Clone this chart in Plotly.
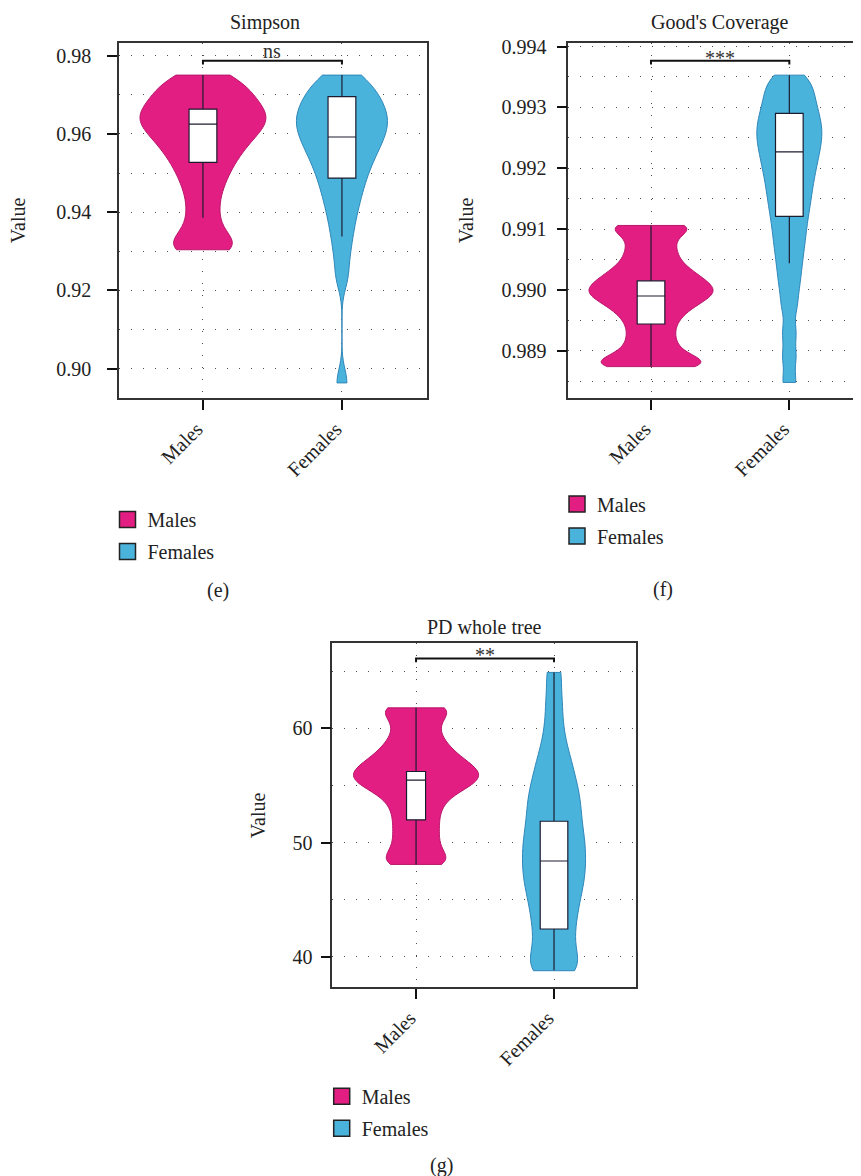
import plotly.graph_objects as go

FONT = "Liberation Serif, DejaVu Serif, serif"
W, H = 861, 1176
# empirical page offset compensation (reference pixel -> layout fraction)
DX, DY, HS = 8.0, 15.5, 1168.0


def fx(px):
    return (px - DX) / W


def fy(py):
    return 1 - (py - DY) / HS


categories = ["Males", "Females"]
fill_colors = ["#E31E82", "#4AB3DC"]
outline_colors = ["#B8176B", "#2F86B8"]

# ---- sample values (read/estimated from the picture) ----
simpson_males = [0.975, 0.9738, 0.9725, 0.9712, 0.9700, 0.9689, 0.9679, 0.9669, 0.9660, 0.9651,
                 0.9643, 0.9635, 0.9627, 0.9618, 0.9609, 0.9599, 0.9588, 0.9576, 0.9563, 0.9549,
                 0.9533, 0.9515, 0.9494, 0.9470, 0.9440, 0.9405, 0.9370, 0.9340, 0.9318, 0.9308, 0.9304]
simpson_females = [0.975, 0.9737, 0.9723, 0.9710, 0.9698, 0.9687, 0.9676, 0.9666, 0.9657,
                   0.9648, 0.9639, 0.9630, 0.9621, 0.9612, 0.9603, 0.9593, 0.9583, 0.9572, 0.9561,
                   0.9549, 0.9536, 0.9522, 0.9507, 0.9490, 0.9472, 0.9452, 0.9430, 0.9405, 0.9375,
                   0.9340, 0.9295, 0.9235, 0.8964]
goods_males = [0.99106, 0.99106, 0.99097, 0.99084, 0.99070, 0.99057, 0.99045, 0.99035, 0.99027, 0.99020,
               0.99014, 0.99008, 0.99003, 0.98998, 0.98993, 0.98988, 0.98982, 0.98975, 0.98967, 0.98957,
               0.98945, 0.98931, 0.98917, 0.98904, 0.98893, 0.98885, 0.98879, 0.98875, 0.98874]
goods_females = [0.99353, 0.99342, 0.99331, 0.99320, 0.99310, 0.99300, 0.99291, 0.99282, 0.99274,
                 0.99266, 0.99258, 0.99250, 0.99242, 0.99234, 0.99225, 0.99216, 0.99207,
                 0.99197, 0.99187, 0.99176, 0.99165, 0.99153, 0.99141, 0.99128, 0.99114, 0.99099, 0.99083,
                 0.99066, 0.99047, 0.99026, 0.99002, 0.98972, 0.98930, 0.98890, 0.98848]
pd_males = [61.8, 61.8, 61.0, 60.1, 59.2, 58.5, 57.9, 57.4, 57.0, 56.6, 56.3, 56.0, 55.7, 55.4, 55.1,
            54.7, 54.2, 53.5, 52.7, 51.8, 50.9, 50.0, 49.1, 48.4, 48.1]
pd_females = [64.9, 62.4, 60.2, 58.4, 57.2, 56.2, 55.3, 54.5, 53.8, 53.1, 52.4, 51.7, 51.0, 50.4, 49.8,
              49.2, 48.6, 48.0, 47.4, 46.8, 46.2, 45.5, 44.8, 44.0, 43.2, 42.3, 41.4, 40.4, 39.5, 38.8, 38.8]

# ---- box statistics (Males, Females) ----
simpson_q1 = [0.9527, 0.9487]
simpson_median = [0.9625, 0.9592]
simpson_q3 = [0.9663, 0.9695]
simpson_low = [0.9386, 0.9338]
simpson_high = [0.9750, 0.9750]

goods_q1 = [0.98944, 0.99121]
goods_median = [0.98990, 0.99227]
goods_q3 = [0.99015, 0.99290]
goods_low = [0.98874, 0.99044]
goods_high = [0.99106, 0.99353]

pd_q1 = [52.0, 42.45]
pd_median = [55.47, 48.4]
pd_q3 = [56.23, 51.88]
pd_low = [48.1, 38.83]
pd_high = [61.8, 64.9]

titles = ["Simpson", "Good's Coverage", "PD whole tree"]
sig_labels = ["ns", "***", "**"]
panel_labels = ["(e)", "(f)", "(g)"]

panels = [
    dict(data=[simpson_males, simpson_females], q1=simpson_q1, med=simpson_median, q3=simpson_q3,
         lo=simpson_low, hi=simpson_high, bw=[0.003, 0.0035], vw=[0.906, 0.655], boxw=[0.2, 0.2],
         xid="x", yid="y", xdom=[119, 427], ydom=[43, 398], xrange=[-0.604, 1.612],
         yrange=[0.89259, 0.98332], dtick=0.02, minor=0.01, fmt=".2f", mirror_y=True,
         standoff=12, title_xy=(265, 23), ylab_x=18, sig_y=0.949, sig_tick=0.938, sig_shift=-3,
         legend_x=107.5, legend_cy=535.6, plabel=(218, 591)),
    dict(data=[goods_males, goods_females], q1=goods_q1, med=goods_median, q3=goods_q3,
         lo=goods_low, hi=goods_high, bw=[0.00012, 0.00018], vw=[0.897, 0.47], boxw=[0.2, 0.2],
         xid="x2", yid="y2", xdom=[568.3, 869], ydom=[43, 398], xrange=[-0.598, 1.576],
         yrange=[0.988227, 0.994066], dtick=0.001, minor=0.0005, fmt=".3f", mirror_y=False,
         standoff=6, title_xy=(720, 23), ylab_x=466, sig_y=0.949, sig_tick=0.938, sig_shift=-10,
         legend_x=557, legend_cy=520, plabel=(663, 590)),
    dict(data=[pd_males, pd_females], q1=pd_q1, med=pd_median, q3=pd_q3,
         lo=pd_low, hi=pd_high, bw=[0.8, 1.3], vw=[0.906, 0.457], boxw=[0.138, 0.2],
         xid="x3", yid="y3", xdom=[332.3, 635.7], ydom=[643.3, 986.7], xrange=[-0.607, 1.592],
         yrange=[37.372, 67.445], dtick=10, minor=5, fmt="d", mirror_y=True,
         standoff=4, title_xy=(484, 627), ylab_x=258, sig_y=0.956, sig_tick=0.945, sig_shift=-10,
         legend_x=321.7, legend_cy=1111.7, plabel=(441, 1165)),
]

fig = go.Figure()
grid_style = dict(showgrid=True, gridcolor="#4a4a4a", griddash="1px,11px", gridwidth=1)
tickfont = dict(family=FONT, size=20, color="#222")

layout = dict(width=W, height=H, margin=dict(l=0, r=0, t=0, b=0),
              paper_bgcolor="white", plot_bgcolor="white", showlegend=True,
              violinmode="overlay", boxmode="overlay", annotations=[], shapes=[])

for k, p in enumerate(panels):
    legend_name = "legend" if k == 0 else f"legend{k + 1}"
    for i, cat in enumerate(categories):
        vals = p["data"][i]
        fig.add_trace(go.Violin(
            x=[cat] * len(vals), y=vals, name=cat, xaxis=p["xid"], yaxis=p["yid"],
            spanmode="hard", bandwidth=p["bw"][i], width=p["vw"][i], scalemode="width",
            fillcolor=fill_colors[i], line=dict(color=outline_colors[i], width=1),
            opacity=1, points=False, box_visible=False, meanline_visible=False,
            showlegend=False, hoverinfo="skip"))
        fig.add_trace(go.Box(
            x=[cat], q1=[p["q1"][i]], median=[p["med"][i]], q3=[p["q3"][i]],
            lowerfence=[p["lo"][i]], upperfence=[p["hi"][i]], xaxis=p["xid"], yaxis=p["yid"],
            width=p["boxw"][i], fillcolor="white", line=dict(color="#1c1c30", width=1.2),
            whiskerwidth=0, boxpoints=False, showlegend=False, hoverinfo="skip"))
    for i, cat in enumerate(categories):
        fig.add_trace(go.Scatter(
            x=[None], y=[None], mode="markers", name=cat, xaxis=p["xid"], yaxis=p["yid"],
            marker=dict(symbol="square", size=16, color=fill_colors[i],
                        line=dict(color="#222", width=1.5)),
            legend=legend_name, legendgroup=f"{legend_name}_{cat}", showlegend=True))

    xkey = "xaxis" if p["xid"] == "x" else "xaxis" + p["xid"][1:]
    ykey = "yaxis" if p["yid"] == "y" else "yaxis" + p["yid"][1:]
    layout[xkey] = dict(
        domain=[fx(p["xdom"][0]), min(1.0, fx(p["xdom"][1]))], anchor=p["yid"], type="category",
        categoryorder="array", categoryarray=categories, range=p["xrange"],
        showline=True, linecolor="#333", linewidth=1.5, mirror=True,
        ticks="outside", ticklen=10, tickwidth=2, tickcolor="#111", tickangle=-45,
        ticklabelshift=-6,
        tickfont=tickfont, zeroline=False, layer="above traces", **grid_style)
    layout[ykey] = dict(
        domain=[fy(p["ydom"][1]), fy(p["ydom"][0])], anchor=p["xid"],
        range=p["yrange"], dtick=p["dtick"], tickformat=p["fmt"],
        showline=True, linecolor="#333", linewidth=1.5, mirror=p["mirror_y"],
        ticks="outside", ticklen=10, tickwidth=2, tickcolor="#111",
        tickfont=tickfont, ticklabelstandoff=p["standoff"], zeroline=False,
        layer="above traces",
        minor=dict(dtick=p["minor"], ticks="", **grid_style), **grid_style)

    layout[legend_name] = dict(
        x=fx(p["legend_x"]), y=fy(p["legend_cy"]), xanchor="left", yanchor="middle",
        font=dict(family=FONT, size=20, color="#222"), bgcolor="rgba(0,0,0,0)",
        itemsizing="trace", tracegroupgap=3)

    # titles and labels
    layout["annotations"].append(dict(
        text=titles[k], x=fx(p["title_xy"][0]), y=fy(p["title_xy"][1]), xref="paper",
        yref="paper", showarrow=False, font=dict(family=FONT, size=20, color="#222"),
        xanchor="center", yanchor="middle"))
    layout["annotations"].append(dict(
        text="Value", textangle=-90, x=fx(p["ylab_x"]),
        y=fy((p["ydom"][0] + p["ydom"][1]) / 2), xref="paper", yref="paper",
        showarrow=False, font=dict(family=FONT, size=20, color="#222"),
        xanchor="center", yanchor="middle"))
    layout["annotations"].append(dict(
        text=panel_labels[k], x=fx(p["plabel"][0]), y=fy(p["plabel"][1]), xref="paper",
        yref="paper", showarrow=False, font=dict(family=FONT, size=20, color="#222"),
        xanchor="center", yanchor="middle"))
    # significance bracket
    xr = p["xid"]
    yr = p["yid"] + " domain"
    layout["shapes"].append(dict(
        type="path", xref=xr, yref=yr,
        path=f"M 0 {p['sig_tick']} L 0 {p['sig_y']} L 1 {p['sig_y']} L 1 {p['sig_tick']}",
        line=dict(color="#111", width=2)))
    layout["annotations"].append(dict(
        text=sig_labels[k], x=0.5, y=p["sig_y"], xref=xr, yref=yr, showarrow=False,
        font=dict(family=FONT, size=20, color="#333"), xanchor="center", yanchor="bottom",
        yshift=p["sig_shift"]))

fig.update_layout(**layout)
fig.write_html("out.html")
